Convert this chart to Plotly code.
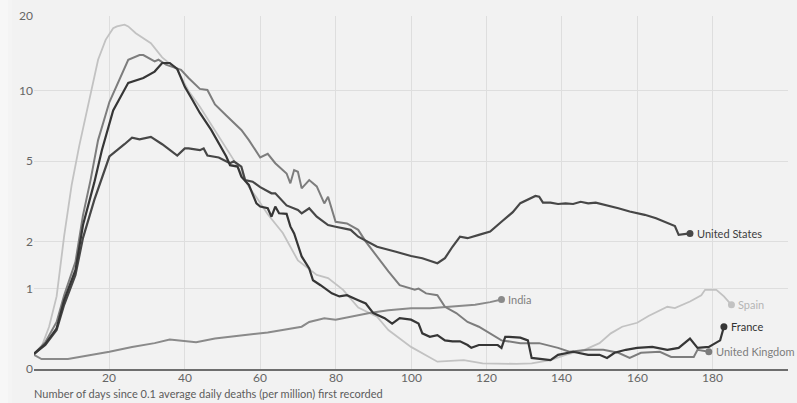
import numpy as np
import plotly.graph_objects as go

# Daily deaths per million (7-day average), by days since 0.1 deaths/million first recorded
spain_days = [0, 2, 4, 6, 8, 10, 12, 15, 17, 19, 21, 22, 24, 25, 27,
              31, 34, 38, 41, 44, 48, 53, 57, 59, 62, 66, 70, 75, 78, 82, 86, 91, 94, 100, 107,
              114, 119, 128, 132, 137, 141, 146, 150, 153, 156, 160, 163, 168, 170, 174, 177, 178, 181, 183, 185]
spain_vals = [0.13, 0.21, 0.44, 0.87, 2.15, 3.9, 5.85, 9.9, 13.4, 16.1, 17.9, 18.2, 18.5, 18.2, 17.1,
              15.6, 13.7, 12.2, 10.0, 8.6, 6.8, 5.06, 3.8, 3.4, 2.8, 2.23, 1.55, 1.25, 1.19, 0.98, 0.70, 0.57, 0.40, 0.21, 0.065,
              0.08, 0.05, 0.045, 0.05, 0.08, 0.13, 0.18, 0.25, 0.36, 0.44, 0.49, 0.58, 0.71, 0.69, 0.79, 0.89, 0.98, 0.98, 0.87, 0.74]

india_days = [0, 2, 9, 12, 16, 20, 26, 32, 36, 40, 43, 48, 53, 56, 62, 66, 71, 73, 77, 80,
              84, 89, 94, 100, 105, 110, 117, 121, 124]
india_vals = [0.13, 0.09, 0.09, 0.11, 0.13, 0.16, 0.21, 0.25, 0.29, 0.27, 0.26, 0.30, 0.32, 0.34, 0.37, 0.40, 0.44, 0.50, 0.55, 0.53,
              0.57, 0.62, 0.66, 0.69, 0.69, 0.71, 0.74, 0.78, 0.82]

uk_days = [0, 3, 6, 8, 11, 13, 15, 17, 20, 23, 25, 28, 29, 32, 33, 35, 39, 41, 44, 46,
           48, 51, 55, 57, 60, 62, 64, 67, 68, 69, 70, 71, 73, 75, 77, 78, 79, 80, 83, 86,
           88, 91, 94, 97, 101, 102, 104, 107, 109, 112, 115, 118, 121, 124, 129, 134, 139, 142, 147, 151,
           155, 158, 161, 166, 169, 175, 176, 179]
uk_vals = [0.14, 0.26, 0.50, 0.89, 1.52, 2.77, 4.1, 6.2, 9.0, 11.4, 13.4, 14.0, 14.0, 13.2, 13.4, 12.8, 12.2, 11.3, 10.2, 10.1,
           8.8, 7.9, 6.86, 6.2, 5.2, 5.4, 4.9, 4.4, 3.96, 4.56, 4.48, 3.75, 4.1, 3.83, 3.17, 3.42, 2.94, 2.56, 2.51, 2.32,
           2.0, 1.63, 1.32, 1.06, 0.98, 1.0, 0.92, 0.89, 0.71, 0.62, 0.50, 0.44, 0.36, 0.28, 0.25, 0.25, 0.20, 0.16, 0.18, 0.18,
           0.15, 0.10, 0.15, 0.16, 0.11, 0.11, 0.18, 0.16]

us_days = [0, 3, 6, 8, 11, 13, 16, 18, 20, 24, 26, 28, 31, 34, 38, 40, 41, 44, 45, 46,
           49, 52, 53, 55, 56, 58, 60, 63, 64, 67, 70, 71, 73, 75, 78, 80, 84, 86, 91, 96,
           100, 103, 107, 109, 111, 113, 115, 118, 121, 124, 127, 129, 132, 133, 134, 135, 137, 139, 141, 143,
           145, 147, 149, 152, 155, 158, 162, 165, 168, 170, 171, 173, 174]
us_vals = [0.14, 0.23, 0.40, 0.74, 1.25, 2.1, 3.3, 4.2, 5.25, 5.95, 6.35, 6.25, 6.4, 5.95, 5.3, 5.7, 5.7, 5.6, 5.7, 5.3,
           5.2, 4.9, 5.0, 4.73, 4.1, 4.03, 3.8, 3.55, 3.55, 3.1, 2.94, 2.83, 3.0, 2.72, 2.46, 2.41, 2.32, 2.13, 1.87, 1.75,
           1.65, 1.6, 1.49, 1.6, 1.87, 2.13, 2.09, 2.18, 2.27, 2.56, 2.87, 3.18, 3.36, 3.45, 3.42, 3.2, 3.2, 3.15, 3.17, 3.15,
           3.23, 3.17, 3.2, 3.11, 3.0, 2.89, 2.78, 2.67, 2.52, 2.43, 2.18, 2.22, 2.22]

france_days = [0, 3, 6, 8, 11, 13, 16, 18, 21, 25, 29, 32, 34, 36, 38, 40, 42, 44, 47, 49, 51,
               52, 54, 55, 57, 59, 60, 62, 63, 64, 65, 67, 68, 69, 71, 73, 74, 76, 79, 81, 83,
               86, 88, 90, 93, 95, 97, 100, 102, 103, 105, 107, 109, 111, 113, 115, 116, 118, 123, 124, 125,
               126, 129, 131, 132, 137, 139, 143, 147, 150, 152, 154, 157, 160, 164, 168, 171, 174, 176, 179, 182,
               183]
france_vals = [0.14, 0.24, 0.42, 0.81, 1.35, 2.46, 4.0, 5.6, 8.3, 10.8, 11.3, 12.0, 13.0, 13.0, 12.3, 10.4, 9.2, 8.1, 6.86, 6.0, 5.25,
               4.8, 4.73, 4.25, 3.89, 3.17, 3.06, 3.0, 2.72, 3.06, 2.83, 2.81, 2.42, 2.22, 1.64, 1.38, 1.15, 1.06, 0.92, 0.87, 0.89,
               0.81, 0.76, 0.62, 0.55, 0.48, 0.55, 0.53, 0.48, 0.36, 0.32, 0.34, 0.28, 0.27, 0.27, 0.23, 0.20, 0.23, 0.23, 0.20, 0.32,
               0.32, 0.31, 0.28, 0.10, 0.08, 0.13, 0.16, 0.13, 0.13, 0.10, 0.15, 0.18, 0.20, 0.21, 0.18, 0.20, 0.30, 0.20, 0.21, 0.28,
               0.44]

x_ticks = [20, 40, 60, 80, 100, 120, 140, 160, 180]
x_tick_labels = [str(t) for t in x_ticks]
y_ticks = [0, 1, 2, 5, 10, 20]
y_tick_labels = ["0", "1", "2", "5", "10", "20"]
x_title = "Number of days since 0.1 average daily deaths (per million) first recorded"


def scale(v):
    # log(1 + value) scale, so that zero sits on the baseline
    return np.log10(1.0 + np.asarray(v, dtype=float))


FONT = "Lato, 'Open Sans', sans-serif"
BG = "#f2f2f2"
TICK_COLOR = "#666666"

series = [
    ("Spain", spain_days, spain_vals, "#c2c2c2", "#b5b5b5", 1.8),
    ("India", india_days, india_vals, "#8a8a8a", "#808080", 2.0),
    ("United Kingdom", uk_days, uk_vals, "#7d7d7d", "#7d7d7d", 2.0),
    ("United States", us_days, us_vals, "#474747", "#3d3d3d", 2.2),
    ("France", france_days, france_vals, "#363636", "#333333", 2.2),
]

fig = go.Figure()
for name, days, vals, color, text_color, width in series:
    fig.add_trace(go.Scatter(
        x=days, y=scale(vals), mode="lines",
        line=dict(color=color, width=width, shape="linear"),
        hoverinfo="skip", showlegend=False,
    ))
    end_y = float(scale([vals[-1]])[0])
    fig.add_trace(go.Scatter(
        x=[days[-1]], y=[end_y], mode="markers",
        marker=dict(color=color, size=7),
        hoverinfo="skip", showlegend=False,
    ))
    fig.add_annotation(
        x=days[-1], y=end_y, text=name, showarrow=False,
        xanchor="left", yanchor="middle", xshift=5,
        font=dict(family=FONT, size=11, color=text_color),
    )

# x tick labels sit tight under the baseline
for t, lab in zip(x_ticks, x_tick_labels):
    fig.add_annotation(
        x=t, y=0, xref="x", yref="paper", text=lab, showarrow=False,
        xanchor="center", yanchor="top", yshift=1,
        font=dict(family=FONT, size=12, color=TICK_COLOR),
    )

fig.add_annotation(
    x=0, y=0, xref="paper", yref="paper", text=x_title, showarrow=False,
    xanchor="left", yanchor="top", yshift=-16, xshift=-2,
    font=dict(family=FONT, size=11, color="#5c5c5c"),
)

# soft lighter strip along the left page edge
fig.add_shape(type="rect", xref="paper", yref="paper",
              x0=-34 / 754, x1=-26 / 754, y0=-34 / 353, y1=369 / 353,
              fillcolor="#f7f7f7", line=dict(width=0), layer="below")
fig.add_shape(type="rect", xref="paper", yref="paper",
              x0=-26 / 754, x1=-22 / 754, y0=-34 / 353, y1=369 / 353,
              fillcolor="#f4f4f4", line=dict(width=0), layer="below")

fig.update_xaxes(
    range=[0, 200], tickvals=x_ticks, ticks="", showticklabels=False,
    showgrid=True, gridcolor="#dedede", gridwidth=1,
    zeroline=False, showline=True, linecolor="#6e6e6e", linewidth=1.5,
)
fig.update_yaxes(
    range=[0, float(scale([20])[0])], tickvals=scale(y_ticks).tolist(), ticktext=y_tick_labels,
    ticks="", showgrid=True, gridcolor="#dedede", gridwidth=1,
    zeroline=False, showline=False,
    tickfont=dict(family=FONT, size=12, color=TICK_COLOR),
)

fig.update_layout(
    width=797, height=403,
    margin=dict(l=34, r=9, t=16, b=34),
    paper_bgcolor=BG, plot_bgcolor=BG,
    font=dict(family=FONT),
)

fig.write_html("out.html")
